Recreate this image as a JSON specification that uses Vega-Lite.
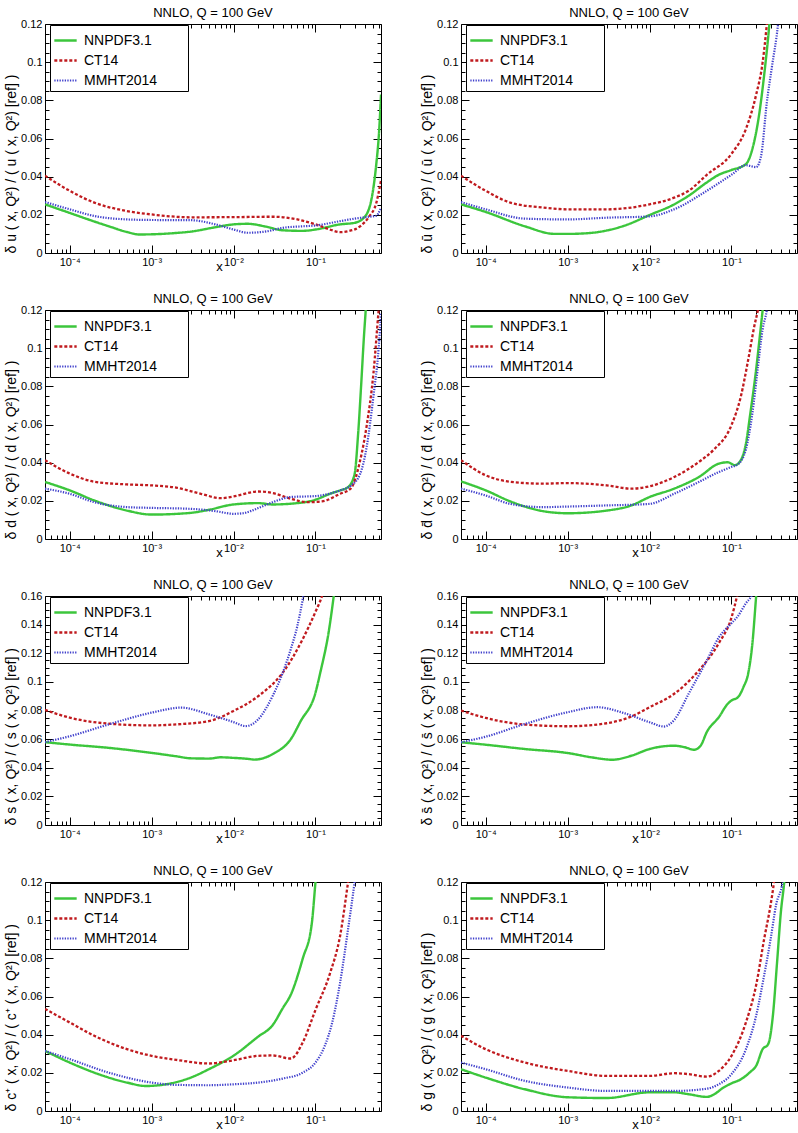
{
"$schema": "https://vega.github.io/schema/vega-lite/v6.json",
"padding": {"left": 4, "top": 6, "right": 2, "bottom": 2},
"background": "white",
"config": {
 "font": "Liberation Sans",
 "view": {"stroke": "black", "strokeWidth": 1},
 "axis": {"grid": false, "domain": false, "tickColor": "black", "tickWidth": 1, "labelColor": "black", "titleColor": "black", "labelFontSize": 11, "titleFontSize": 14, "titleFontWeight": "normal", "labelFont": "Liberation Sans", "titleFont": "Liberation Sans"},
 "title": {"fontSize": 13, "fontWeight": "normal", "font": "Liberation Sans", "color": "black", "offset": -2},
 "legend": {"orient": "none", "legendX": 5, "legendY": 1, "strokeColor": "black", "fillColor": "white", "padding": 3, "rowPadding": 0, "labelFontSize": 14, "labelFont": "Liberation Sans", "labelColor": "black", "symbolType": "stroke", "symbolSize": 500, "labelOffset": 6, "cornerRadius": 0, "labelLimit": 400}
},
"datasets": {
 "u": [
  {"s":"NNPDF3.1","x":0.00005,"y":0.0255},{"s":"NNPDF3.1","x":0.0001,"y":0.021},{"s":"NNPDF3.1","x":0.0002,"y":0.0165},{"s":"NNPDF3.1","x":0.0003,"y":0.014},{"s":"NNPDF3.1","x":0.0005,"y":0.011},{"s":"NNPDF3.1","x":0.0007,"y":0.0097},{"s":"NNPDF3.1","x":0.001,"y":0.0098},{"s":"NNPDF3.1","x":0.002,"y":0.0105},{"s":"NNPDF3.1","x":0.003,"y":0.0112},{"s":"NNPDF3.1","x":0.006,"y":0.0135},{"s":"NNPDF3.1","x":0.01,"y":0.015},{"s":"NNPDF3.1","x":0.015,"y":0.0153},{"s":"NNPDF3.1","x":0.025,"y":0.0138},{"s":"NNPDF3.1","x":0.04,"y":0.0119},{"s":"NNPDF3.1","x":0.07,"y":0.0116},{"s":"NNPDF3.1","x":0.1,"y":0.0123},{"s":"NNPDF3.1","x":0.2,"y":0.015},{"s":"NNPDF3.1","x":0.3,"y":0.0158},{"s":"NNPDF3.1","x":0.4,"y":0.019},{"s":"NNPDF3.1","x":0.5,"y":0.032},{"s":"NNPDF3.1","x":0.55,"y":0.046},{"s":"NNPDF3.1","x":0.6,"y":0.065},{"s":"NNPDF3.1","x":0.63,"y":0.083},
  {"s":"CT14","x":0.00005,"y":0.0405},{"s":"CT14","x":0.0001,"y":0.0326},{"s":"CT14","x":0.0002,"y":0.0264},{"s":"CT14","x":0.0005,"y":0.022},{"s":"CT14","x":0.001,"y":0.0202},{"s":"CT14","x":0.003,"y":0.0187},{"s":"CT14","x":0.01,"y":0.0188},{"s":"CT14","x":0.03,"y":0.019},{"s":"CT14","x":0.06,"y":0.0176},{"s":"CT14","x":0.1,"y":0.015},{"s":"CT14","x":0.15,"y":0.0123},{"s":"CT14","x":0.2,"y":0.0109},{"s":"CT14","x":0.25,"y":0.0114},{"s":"CT14","x":0.35,"y":0.014},{"s":"CT14","x":0.45,"y":0.019},{"s":"CT14","x":0.55,"y":0.026},{"s":"CT14","x":0.63,"y":0.038},
  {"s":"MMHT2014","x":0.00005,"y":0.0267},{"s":"MMHT2014","x":0.0001,"y":0.0229},{"s":"MMHT2014","x":0.0002,"y":0.0194},{"s":"MMHT2014","x":0.0005,"y":0.0176},{"s":"MMHT2014","x":0.001,"y":0.0173},{"s":"MMHT2014","x":0.003,"y":0.0172},{"s":"MMHT2014","x":0.006,"y":0.015},{"s":"MMHT2014","x":0.01,"y":0.0123},{"s":"MMHT2014","x":0.015,"y":0.0106},{"s":"MMHT2014","x":0.025,"y":0.0113},{"s":"MMHT2014","x":0.04,"y":0.0132},{"s":"MMHT2014","x":0.07,"y":0.014},{"s":"MMHT2014","x":0.1,"y":0.0144},{"s":"MMHT2014","x":0.2,"y":0.0167},{"s":"MMHT2014","x":0.3,"y":0.018},{"s":"MMHT2014","x":0.45,"y":0.019},{"s":"MMHT2014","x":0.55,"y":0.0195},{"s":"MMHT2014","x":0.63,"y":0.0237}
 ],
 "ub": [
  {"s":"NNPDF3.1","x":0.00005,"y":0.0255},{"s":"NNPDF3.1","x":0.0001,"y":0.0215},{"s":"NNPDF3.1","x":0.0003,"y":0.014},{"s":"NNPDF3.1","x":0.0007,"y":0.01},{"s":"NNPDF3.1","x":0.001,"y":0.01},{"s":"NNPDF3.1","x":0.002,"y":0.0106},{"s":"NNPDF3.1","x":0.003,"y":0.0118},{"s":"NNPDF3.1","x":0.005,"y":0.0144},{"s":"NNPDF3.1","x":0.01,"y":0.0199},{"s":"NNPDF3.1","x":0.02,"y":0.0255},{"s":"NNPDF3.1","x":0.03,"y":0.03},{"s":"NNPDF3.1","x":0.05,"y":0.037},{"s":"NNPDF3.1","x":0.07,"y":0.041},{"s":"NNPDF3.1","x":0.1,"y":0.0435},{"s":"NNPDF3.1","x":0.15,"y":0.0466},{"s":"NNPDF3.1","x":0.18,"y":0.0546},{"s":"NNPDF3.1","x":0.22,"y":0.074},{"s":"NNPDF3.1","x":0.25,"y":0.093},{"s":"NNPDF3.1","x":0.29,"y":0.12},{"s":"NNPDF3.1","x":0.31,"y":0.135},
  {"s":"CT14","x":0.00005,"y":0.0405},{"s":"CT14","x":0.0001,"y":0.0326},{"s":"CT14","x":0.0002,"y":0.0264},{"s":"CT14","x":0.0005,"y":0.0238},{"s":"CT14","x":0.001,"y":0.0229},{"s":"CT14","x":0.003,"y":0.0229},{"s":"CT14","x":0.01,"y":0.0255},{"s":"CT14","x":0.02,"y":0.029},{"s":"CT14","x":0.03,"y":0.0326},{"s":"CT14","x":0.05,"y":0.041},{"s":"CT14","x":0.1,"y":0.052},{"s":"CT14","x":0.15,"y":0.065},{"s":"CT14","x":0.2,"y":0.083},{"s":"CT14","x":0.24,"y":0.1},{"s":"CT14","x":0.27,"y":0.12},{"s":"CT14","x":0.29,"y":0.135},
  {"s":"MMHT2014","x":0.00005,"y":0.0267},{"s":"MMHT2014","x":0.0001,"y":0.0229},{"s":"MMHT2014","x":0.0003,"y":0.018},{"s":"MMHT2014","x":0.001,"y":0.0176},{"s":"MMHT2014","x":0.003,"y":0.0185},{"s":"MMHT2014","x":0.01,"y":0.0192},{"s":"MMHT2014","x":0.02,"y":0.0229},{"s":"MMHT2014","x":0.05,"y":0.0326},{"s":"MMHT2014","x":0.1,"y":0.041},{"s":"MMHT2014","x":0.15,"y":0.046},{"s":"MMHT2014","x":0.2,"y":0.045},{"s":"MMHT2014","x":0.23,"y":0.051},{"s":"MMHT2014","x":0.27,"y":0.079},{"s":"MMHT2014","x":0.31,"y":0.097},{"s":"MMHT2014","x":0.37,"y":0.12},{"s":"MMHT2014","x":0.4,"y":0.135}
 ],
 "d": [
  {"s":"NNPDF3.1","x":0.00005,"y":0.0299},{"s":"NNPDF3.1","x":0.0001,"y":0.0255},{"s":"NNPDF3.1","x":0.0002,"y":0.0202},{"s":"NNPDF3.1","x":0.0005,"y":0.0149},{"s":"NNPDF3.1","x":0.001,"y":0.0128},{"s":"NNPDF3.1","x":0.003,"y":0.0137},{"s":"NNPDF3.1","x":0.005,"y":0.0153},{"s":"NNPDF3.1","x":0.01,"y":0.0181},{"s":"NNPDF3.1","x":0.02,"y":0.0188},{"s":"NNPDF3.1","x":0.03,"y":0.0181},{"s":"NNPDF3.1","x":0.05,"y":0.0185},{"s":"NNPDF3.1","x":0.1,"y":0.0206},{"s":"NNPDF3.1","x":0.15,"y":0.0237},{"s":"NNPDF3.1","x":0.2,"y":0.0255},{"s":"NNPDF3.1","x":0.25,"y":0.0272},{"s":"NNPDF3.1","x":0.3,"y":0.034},{"s":"NNPDF3.1","x":0.33,"y":0.054},{"s":"NNPDF3.1","x":0.36,"y":0.08},{"s":"NNPDF3.1","x":0.39,"y":0.106},{"s":"NNPDF3.1","x":0.41,"y":0.12},{"s":"NNPDF3.1","x":0.43,"y":0.135},
  {"s":"CT14","x":0.00005,"y":0.0413},{"s":"CT14","x":0.0001,"y":0.0343},{"s":"CT14","x":0.0002,"y":0.03},{"s":"CT14","x":0.0005,"y":0.0286},{"s":"CT14","x":0.001,"y":0.0281},{"s":"CT14","x":0.002,"y":0.0269},{"s":"CT14","x":0.004,"y":0.0237},{"s":"CT14","x":0.007,"y":0.0214},{"s":"CT14","x":0.01,"y":0.0223},{"s":"CT14","x":0.02,"y":0.0249},{"s":"CT14","x":0.03,"y":0.0241},{"s":"CT14","x":0.05,"y":0.0211},{"s":"CT14","x":0.08,"y":0.0193},{"s":"CT14","x":0.12,"y":0.0197},{"s":"CT14","x":0.2,"y":0.0237},{"s":"CT14","x":0.27,"y":0.0265},{"s":"CT14","x":0.35,"y":0.041},{"s":"CT14","x":0.42,"y":0.059},{"s":"CT14","x":0.51,"y":0.087},{"s":"CT14","x":0.59,"y":0.12},{"s":"CT14","x":0.62,"y":0.13},
  {"s":"MMHT2014","x":0.00005,"y":0.0264},{"s":"MMHT2014","x":0.0001,"y":0.0237},{"s":"MMHT2014","x":0.0002,"y":0.0193},{"s":"MMHT2014","x":0.0005,"y":0.0167},{"s":"MMHT2014","x":0.001,"y":0.0163},{"s":"MMHT2014","x":0.003,"y":0.0158},{"s":"MMHT2014","x":0.006,"y":0.0146},{"s":"MMHT2014","x":0.01,"y":0.0132},{"s":"MMHT2014","x":0.013,"y":0.0135},{"s":"MMHT2014","x":0.02,"y":0.0162},{"s":"MMHT2014","x":0.03,"y":0.0193},{"s":"MMHT2014","x":0.05,"y":0.022},{"s":"MMHT2014","x":0.1,"y":0.0225},{"s":"MMHT2014","x":0.2,"y":0.0255},{"s":"MMHT2014","x":0.27,"y":0.028},{"s":"MMHT2014","x":0.35,"y":0.034},{"s":"MMHT2014","x":0.42,"y":0.048},{"s":"MMHT2014","x":0.51,"y":0.075},{"s":"MMHT2014","x":0.59,"y":0.1},{"s":"MMHT2014","x":0.63,"y":0.118}
 ],
 "db": [
  {"s":"NNPDF3.1","x":0.00005,"y":0.0302},{"s":"NNPDF3.1","x":0.0001,"y":0.0255},{"s":"NNPDF3.1","x":0.0002,"y":0.0197},{"s":"NNPDF3.1","x":0.0005,"y":0.0146},{"s":"NNPDF3.1","x":0.001,"y":0.0135},{"s":"NNPDF3.1","x":0.003,"y":0.0149},{"s":"NNPDF3.1","x":0.006,"y":0.0176},{"s":"NNPDF3.1","x":0.01,"y":0.022},{"s":"NNPDF3.1","x":0.02,"y":0.0264},{"s":"NNPDF3.1","x":0.04,"y":0.0325},{"s":"NNPDF3.1","x":0.07,"y":0.0395},{"s":"NNPDF3.1","x":0.09,"y":0.0402},{"s":"NNPDF3.1","x":0.11,"y":0.0387},{"s":"NNPDF3.1","x":0.13,"y":0.0413},{"s":"NNPDF3.1","x":0.15,"y":0.05},{"s":"NNPDF3.1","x":0.17,"y":0.066},{"s":"NNPDF3.1","x":0.2,"y":0.089},{"s":"NNPDF3.1","x":0.22,"y":0.105},{"s":"NNPDF3.1","x":0.24,"y":0.12},{"s":"NNPDF3.1","x":0.26,"y":0.135},
  {"s":"CT14","x":0.00005,"y":0.0413},{"s":"CT14","x":0.0001,"y":0.0334},{"s":"CT14","x":0.0002,"y":0.03},{"s":"CT14","x":0.0005,"y":0.029},{"s":"CT14","x":0.001,"y":0.0293},{"s":"CT14","x":0.003,"y":0.0281},{"s":"CT14","x":0.006,"y":0.0264},{"s":"CT14","x":0.01,"y":0.0276},{"s":"CT14","x":0.02,"y":0.0325},{"s":"CT14","x":0.04,"y":0.0404},{"s":"CT14","x":0.06,"y":0.0466},{"s":"CT14","x":0.1,"y":0.0597},{"s":"CT14","x":0.13,"y":0.0747},{"s":"CT14","x":0.16,"y":0.094},{"s":"CT14","x":0.19,"y":0.1116},{"s":"CT14","x":0.21,"y":0.12},{"s":"CT14","x":0.23,"y":0.13},
  {"s":"MMHT2014","x":0.00005,"y":0.0264},{"s":"MMHT2014","x":0.0001,"y":0.0228},{"s":"MMHT2014","x":0.0002,"y":0.0184},{"s":"MMHT2014","x":0.0005,"y":0.0167},{"s":"MMHT2014","x":0.001,"y":0.017},{"s":"MMHT2014","x":0.003,"y":0.0176},{"s":"MMHT2014","x":0.01,"y":0.0184},{"s":"MMHT2014","x":0.02,"y":0.0237},{"s":"MMHT2014","x":0.04,"y":0.0299},{"s":"MMHT2014","x":0.07,"y":0.0351},{"s":"MMHT2014","x":0.1,"y":0.0378},{"s":"MMHT2014","x":0.12,"y":0.0392},{"s":"MMHT2014","x":0.15,"y":0.047},{"s":"MMHT2014","x":0.18,"y":0.066},{"s":"MMHT2014","x":0.21,"y":0.09},{"s":"MMHT2014","x":0.24,"y":0.11},{"s":"MMHT2014","x":0.27,"y":0.12},{"s":"MMHT2014","x":0.29,"y":0.13}
 ],
 "s": [
  {"s":"NNPDF3.1","x":0.00005,"y":0.0579},{"s":"NNPDF3.1","x":0.0001,"y":0.0562},{"s":"NNPDF3.1","x":0.0003,"y":0.0539},{"s":"NNPDF3.1","x":0.001,"y":0.0504},{"s":"NNPDF3.1","x":0.002,"y":0.048},{"s":"NNPDF3.1","x":0.003,"y":0.0466},{"s":"NNPDF3.1","x":0.005,"y":0.0464},{"s":"NNPDF3.1","x":0.007,"y":0.0473},{"s":"NNPDF3.1","x":0.01,"y":0.0469},{"s":"NNPDF3.1","x":0.015,"y":0.0462},{"s":"NNPDF3.1","x":0.018,"y":0.0457},{"s":"NNPDF3.1","x":0.024,"y":0.047},{"s":"NNPDF3.1","x":0.031,"y":0.05},{"s":"NNPDF3.1","x":0.05,"y":0.06},{"s":"NNPDF3.1","x":0.066,"y":0.0726},{"s":"NNPDF3.1","x":0.1,"y":0.0925},{"s":"NNPDF3.1","x":0.115,"y":0.107},{"s":"NNPDF3.1","x":0.145,"y":0.135},{"s":"NNPDF3.1","x":0.167,"y":0.16},{"s":"NNPDF3.1","x":0.18,"y":0.175},
  {"s":"CT14","x":0.00005,"y":0.0804},{"s":"CT14","x":0.0001,"y":0.075},{"s":"CT14","x":0.0003,"y":0.0708},{"s":"CT14","x":0.001,"y":0.0696},{"s":"CT14","x":0.002,"y":0.0703},{"s":"CT14","x":0.005,"y":0.0726},{"s":"CT14","x":0.01,"y":0.0797},{"s":"CT14","x":0.02,"y":0.09},{"s":"CT14","x":0.04,"y":0.1066},{"s":"CT14","x":0.07,"y":0.13},{"s":"CT14","x":0.1,"y":0.149},{"s":"CT14","x":0.12,"y":0.16},{"s":"CT14","x":0.13,"y":0.167},
  {"s":"MMHT2014","x":0.00005,"y":0.0579},{"s":"MMHT2014","x":0.0001,"y":0.062},{"s":"MMHT2014","x":0.0003,"y":0.0703},{"s":"MMHT2014","x":0.001,"y":0.0785},{"s":"MMHT2014","x":0.0023,"y":0.082},{"s":"MMHT2014","x":0.005,"y":0.0773},{"s":"MMHT2014","x":0.01,"y":0.0719},{"s":"MMHT2014","x":0.014,"y":0.0691},{"s":"MMHT2014","x":0.02,"y":0.0738},{"s":"MMHT2014","x":0.03,"y":0.0902},{"s":"MMHT2014","x":0.04,"y":0.1066},{"s":"MMHT2014","x":0.05,"y":0.123},{"s":"MMHT2014","x":0.06,"y":0.139},{"s":"MMHT2014","x":0.07,"y":0.158},{"s":"MMHT2014","x":0.075,"y":0.168}
 ],
 "sb": [
  {"s":"NNPDF3.1","x":0.00005,"y":0.0578},{"s":"NNPDF3.1","x":0.0001,"y":0.0561},{"s":"NNPDF3.1","x":0.0003,"y":0.0531},{"s":"NNPDF3.1","x":0.001,"y":0.0503},{"s":"NNPDF3.1","x":0.002,"y":0.0472},{"s":"NNPDF3.1","x":0.0035,"y":0.0456},{"s":"NNPDF3.1","x":0.006,"y":0.0484},{"s":"NNPDF3.1","x":0.01,"y":0.0531},{"s":"NNPDF3.1","x":0.02,"y":0.0554},{"s":"NNPDF3.1","x":0.027,"y":0.0543},{"s":"NNPDF3.1","x":0.035,"y":0.0526},{"s":"NNPDF3.1","x":0.042,"y":0.0554},{"s":"NNPDF3.1","x":0.05,"y":0.065},{"s":"NNPDF3.1","x":0.07,"y":0.0753},{"s":"NNPDF3.1","x":0.09,"y":0.0847},{"s":"NNPDF3.1","x":0.1,"y":0.087},{"s":"NNPDF3.1","x":0.12,"y":0.0893},{"s":"NNPDF3.1","x":0.14,"y":0.0964},{"s":"NNPDF3.1","x":0.16,"y":0.106},{"s":"NNPDF3.1","x":0.18,"y":0.127},{"s":"NNPDF3.1","x":0.2,"y":0.16},{"s":"NNPDF3.1","x":0.21,"y":0.175},
  {"s":"CT14","x":0.00005,"y":0.08},{"s":"CT14","x":0.0001,"y":0.0748},{"s":"CT14","x":0.0003,"y":0.0702},{"s":"CT14","x":0.001,"y":0.069},{"s":"CT14","x":0.003,"y":0.0711},{"s":"CT14","x":0.006,"y":0.0758},{"s":"CT14","x":0.01,"y":0.0823},{"s":"CT14","x":0.02,"y":0.0917},{"s":"CT14","x":0.04,"y":0.108},{"s":"CT14","x":0.07,"y":0.127},{"s":"CT14","x":0.1,"y":0.145},{"s":"CT14","x":0.117,"y":0.16},{"s":"CT14","x":0.125,"y":0.167},
  {"s":"MMHT2014","x":0.00005,"y":0.0578},{"s":"MMHT2014","x":0.0001,"y":0.0617},{"s":"MMHT2014","x":0.0003,"y":0.0706},{"s":"MMHT2014","x":0.001,"y":0.0788},{"s":"MMHT2014","x":0.0023,"y":0.0823},{"s":"MMHT2014","x":0.005,"y":0.078},{"s":"MMHT2014","x":0.01,"y":0.0718},{"s":"MMHT2014","x":0.015,"y":0.0688},{"s":"MMHT2014","x":0.02,"y":0.0734},{"s":"MMHT2014","x":0.03,"y":0.0917},{"s":"MMHT2014","x":0.05,"y":0.115},{"s":"MMHT2014","x":0.07,"y":0.131},{"s":"MMHT2014","x":0.1,"y":0.141},{"s":"MMHT2014","x":0.12,"y":0.146},{"s":"MMHT2014","x":0.15,"y":0.155},{"s":"MMHT2014","x":0.175,"y":0.16},{"s":"MMHT2014","x":0.19,"y":0.165}
 ],
 "c": [
  {"s":"NNPDF3.1","x":0.00005,"y":0.0315},{"s":"NNPDF3.1","x":0.0001,"y":0.0254},{"s":"NNPDF3.1","x":0.0002,"y":0.0201},{"s":"NNPDF3.1","x":0.0005,"y":0.0149},{"s":"NNPDF3.1","x":0.00085,"y":0.0131},{"s":"NNPDF3.1","x":0.0015,"y":0.014},{"s":"NNPDF3.1","x":0.003,"y":0.0175},{"s":"NNPDF3.1","x":0.005,"y":0.0219},{"s":"NNPDF3.1","x":0.01,"y":0.029},{"s":"NNPDF3.1","x":0.02,"y":0.039},{"s":"NNPDF3.1","x":0.03,"y":0.045},{"s":"NNPDF3.1","x":0.04,"y":0.054},{"s":"NNPDF3.1","x":0.05,"y":0.061},{"s":"NNPDF3.1","x":0.07,"y":0.08},{"s":"NNPDF3.1","x":0.09,"y":0.098},{"s":"NNPDF3.1","x":0.1,"y":0.12},{"s":"NNPDF3.1","x":0.105,"y":0.13},
  {"s":"CT14","x":0.00005,"y":0.0535},{"s":"CT14","x":0.0001,"y":0.0464},{"s":"CT14","x":0.0002,"y":0.0394},{"s":"CT14","x":0.0005,"y":0.0324},{"s":"CT14","x":0.001,"y":0.0289},{"s":"CT14","x":0.002,"y":0.0268},{"s":"CT14","x":0.005,"y":0.0249},{"s":"CT14","x":0.01,"y":0.0266},{"s":"CT14","x":0.02,"y":0.0289},{"s":"CT14","x":0.03,"y":0.0291},{"s":"CT14","x":0.05,"y":0.0275},{"s":"CT14","x":0.07,"y":0.036},{"s":"CT14","x":0.1,"y":0.053},{"s":"CT14","x":0.15,"y":0.072},{"s":"CT14","x":0.2,"y":0.092},{"s":"CT14","x":0.25,"y":0.12},{"s":"CT14","x":0.27,"y":0.13},
  {"s":"MMHT2014","x":0.00005,"y":0.0315},{"s":"MMHT2014","x":0.0001,"y":0.0272},{"s":"MMHT2014","x":0.0003,"y":0.0201},{"s":"MMHT2014","x":0.001,"y":0.0149},{"s":"MMHT2014","x":0.002,"y":0.0137},{"s":"MMHT2014","x":0.005,"y":0.0135},{"s":"MMHT2014","x":0.01,"y":0.014},{"s":"MMHT2014","x":0.02,"y":0.0149},{"s":"MMHT2014","x":0.04,"y":0.017},{"s":"MMHT2014","x":0.07,"y":0.0201},{"s":"MMHT2014","x":0.1,"y":0.0254},{"s":"MMHT2014","x":0.13,"y":0.0342},{"s":"MMHT2014","x":0.16,"y":0.0464},{"s":"MMHT2014","x":0.2,"y":0.0675},{"s":"MMHT2014","x":0.25,"y":0.0955},{"s":"MMHT2014","x":0.3,"y":0.12},{"s":"MMHT2014","x":0.32,"y":0.13}
 ],
 "g": [
  {"s":"NNPDF3.1","x":0.00005,"y":0.0219},{"s":"NNPDF3.1","x":0.0001,"y":0.0175},{"s":"NNPDF3.1","x":0.0003,"y":0.0114},{"s":"NNPDF3.1","x":0.001,"y":0.0072},{"s":"NNPDF3.1","x":0.003,"y":0.0068},{"s":"NNPDF3.1","x":0.01,"y":0.0098},{"s":"NNPDF3.1","x":0.02,"y":0.0098},{"s":"NNPDF3.1","x":0.03,"y":0.0088},{"s":"NNPDF3.1","x":0.05,"y":0.0074},{"s":"NNPDF3.1","x":0.06,"y":0.0085},{"s":"NNPDF3.1","x":0.08,"y":0.0123},{"s":"NNPDF3.1","x":0.1,"y":0.0145},{"s":"NNPDF3.1","x":0.13,"y":0.0166},{"s":"NNPDF3.1","x":0.17,"y":0.0205},{"s":"NNPDF3.1","x":0.2,"y":0.0237},{"s":"NNPDF3.1","x":0.24,"y":0.0324},{"s":"NNPDF3.1","x":0.28,"y":0.035},{"s":"NNPDF3.1","x":0.32,"y":0.05},{"s":"NNPDF3.1","x":0.36,"y":0.078},{"s":"NNPDF3.1","x":0.4,"y":0.104},{"s":"NNPDF3.1","x":0.44,"y":0.12},{"s":"NNPDF3.1","x":0.46,"y":0.13},
  {"s":"CT14","x":0.00005,"y":0.0394},{"s":"CT14","x":0.0001,"y":0.0324},{"s":"CT14","x":0.0003,"y":0.0254},{"s":"CT14","x":0.001,"y":0.021},{"s":"CT14","x":0.003,"y":0.0184},{"s":"CT14","x":0.01,"y":0.0184},{"s":"CT14","x":0.02,"y":0.0198},{"s":"CT14","x":0.03,"y":0.0193},{"s":"CT14","x":0.05,"y":0.018},{"s":"CT14","x":0.07,"y":0.021},{"s":"CT14","x":0.1,"y":0.0289},{"s":"CT14","x":0.15,"y":0.0464},{"s":"CT14","x":0.2,"y":0.066},{"s":"CT14","x":0.25,"y":0.09},{"s":"CT14","x":0.3,"y":0.108},{"s":"CT14","x":0.33,"y":0.12},{"s":"CT14","x":0.35,"y":0.13},
  {"s":"MMHT2014","x":0.00005,"y":0.0254},{"s":"MMHT2014","x":0.0001,"y":0.0219},{"s":"MMHT2014","x":0.0003,"y":0.0158},{"s":"MMHT2014","x":0.001,"y":0.0123},{"s":"MMHT2014","x":0.003,"y":0.0105},{"s":"MMHT2014","x":0.01,"y":0.0105},{"s":"MMHT2014","x":0.02,"y":0.0105},{"s":"MMHT2014","x":0.05,"y":0.0117},{"s":"MMHT2014","x":0.07,"y":0.014},{"s":"MMHT2014","x":0.1,"y":0.0193},{"s":"MMHT2014","x":0.15,"y":0.0324},{"s":"MMHT2014","x":0.2,"y":0.05},{"s":"MMHT2014","x":0.25,"y":0.071},{"s":"MMHT2014","x":0.3,"y":0.09},{"s":"MMHT2014","x":0.35,"y":0.108},{"s":"MMHT2014","x":0.42,"y":0.12},{"s":"MMHT2014","x":0.45,"y":0.13}
 ]
},
"columns": 2,
"spacing": {"row": 57, "column": 80},
"bounds": "flush",
"resolve": {"scale": {"x": "independent", "y": "independent"}, "legend": {"color": "independent", "strokeDash": "independent", "strokeWidth": "independent"}},
"concat": [
 {"data": {"name": "u"}, "title": "NNLO, Q = 100 GeV", "width": 336, "height": 229,
  "resolve": {"axis": {"x": "independent", "y": "independent"}},
  "layer": [
   {"mark": {"type": "line", "clip": true, "interpolate": "monotone"},
    "encoding": {
     "x": {"field": "x", "type": "quantitative", "scale": {"type": "log", "domain": [0.00005, 0.63], "nice": false}, "axis": {"orient": "bottom", "values": [0.0001,0.001,0.01,0.1], "tickSize": -8, "labelPadding": 11, "labelExpr": "datum.value < 0.0005 ? '10⁻⁴' : datum.value < 0.005 ? '10⁻³' : datum.value < 0.05 ? '10⁻²' : '10⁻¹'", "title": "x", "titleX": 174, "titleY": 13, "titleBaseline": "middle", "titleFontSize": 13}},
     "y": {"field": "y", "type": "quantitative", "scale": {"domain": [0, 0.12], "nice": false}, "axis": {"orient": "left", "values": [0,0.02,0.04,0.06,0.08,0.1,0.12], "tickSize": -8, "labelPadding": 11, "labelExpr": "format(datum.value, '.2~f')", "title": "δ u ( x, Q²) / ( u ( x, Q²) [ref] )", "titleAnchor": "start", "titlePadding": 2}},
     "color": {"field": "s", "type": "nominal", "scale": {"domain": ["NNPDF3.1","CT14","MMHT2014"], "range": ["#3cc63c","#c01a1e","#4040cc"]}, "legend": {"title": null, "labelExpr": "datum.label + '\u00a0\u00a0\u00a0\u00a0\u00a0\u00a0\u00a0\u200b'"}},
     "strokeDash": {"field": "s", "type": "nominal", "scale": {"domain": ["NNPDF3.1","CT14","MMHT2014"], "range": [[1,0],[3,2],[1.3,1.3]]}, "legend": {"title": null, "labelExpr": "datum.label + '\u00a0\u00a0\u00a0\u00a0\u00a0\u00a0\u00a0\u200b'"}},
     "strokeWidth": {"field": "s", "type": "ordinal", "scale": {"domain": ["NNPDF3.1","CT14","MMHT2014"], "range": [2.4,2.2,1.6]}, "legend": {"title": null, "labelExpr": "datum.label + '\u00a0\u00a0\u00a0\u00a0\u00a0\u00a0\u00a0\u200b'"}}
    }},
   {"mark": {"type": "line", "clip": true, "opacity": 0}, "encoding": {"x": {"field": "x", "type": "quantitative", "axis": {"orient": "top", "values": [0.0001,0.001,0.01,0.1], "tickSize": -8, "labels": false, "title": null}}, "y": {"field": "y", "type": "quantitative", "axis": {"orient": "right", "values": [0,0.02,0.04,0.06,0.08,0.1,0.12], "tickSize": -8, "labels": false, "title": null}}}},
   {"mark": {"type": "line", "clip": true, "opacity": 0}, "encoding": {"x": {"field": "x", "type": "quantitative", "axis": {"orient": "bottom", "values": [0.00006,0.00007,0.00008,0.00009,0.0002,0.0003,0.0004,0.0005,0.0006,0.0007,0.0008,0.0009,0.002,0.003,0.004,0.005,0.006,0.007,0.008,0.009,0.02,0.03,0.04,0.05,0.06,0.07,0.08,0.09,0.2,0.3,0.4,0.5,0.6], "tickSize": -4, "labels": false, "title": null}}, "y": {"field": "y", "type": "quantitative", "axis": {"orient": "left", "values": [0.005,0.01,0.015,0.025,0.03,0.035,0.045,0.05,0.055,0.065,0.07,0.075,0.085,0.09,0.095,0.105,0.11,0.115], "tickSize": -4, "labels": false, "title": null}}}},
   {"mark": {"type": "line", "clip": true, "opacity": 0}, "encoding": {"x": {"field": "x", "type": "quantitative", "axis": {"orient": "top", "values": [0.00006,0.00007,0.00008,0.00009,0.0002,0.0003,0.0004,0.0005,0.0006,0.0007,0.0008,0.0009,0.002,0.003,0.004,0.005,0.006,0.007,0.008,0.009,0.02,0.03,0.04,0.05,0.06,0.07,0.08,0.09,0.2,0.3,0.4,0.5,0.6], "tickSize": -4, "labels": false, "title": null}}, "y": {"field": "y", "type": "quantitative", "axis": {"orient": "right", "values": [0.005,0.01,0.015,0.025,0.03,0.035,0.045,0.05,0.055,0.065,0.07,0.075,0.085,0.09,0.095,0.105,0.11,0.115], "tickSize": -4, "labels": false, "title": null}}}}
  ]},
 {"data": {"name": "ub"}, "title": "NNLO, Q = 100 GeV", "width": 336, "height": 229,
  "resolve": {"axis": {"x": "independent", "y": "independent"}},
  "layer": [
   {"mark": {"type": "line", "clip": true, "interpolate": "monotone"},
    "encoding": {
     "x": {"field": "x", "type": "quantitative", "scale": {"type": "log", "domain": [0.00005, 0.63], "nice": false}, "axis": {"orient": "bottom", "values": [0.0001,0.001,0.01,0.1], "tickSize": -8, "labelPadding": 11, "labelExpr": "datum.value < 0.0005 ? '10⁻⁴' : datum.value < 0.005 ? '10⁻³' : datum.value < 0.05 ? '10⁻²' : '10⁻¹'", "title": "x", "titleX": 174, "titleY": 13, "titleBaseline": "middle", "titleFontSize": 13}},
     "y": {"field": "y", "type": "quantitative", "scale": {"domain": [0, 0.12], "nice": false}, "axis": {"orient": "left", "values": [0,0.02,0.04,0.06,0.08,0.1,0.12], "tickSize": -8, "labelPadding": 11, "labelExpr": "format(datum.value, '.2~f')", "title": "δ ū ( x, Q²) / ( ū ( x, Q²) [ref] )", "titleAnchor": "start", "titlePadding": 2}},
     "color": {"field": "s", "type": "nominal", "scale": {"domain": ["NNPDF3.1","CT14","MMHT2014"], "range": ["#3cc63c","#c01a1e","#4040cc"]}, "legend": {"title": null, "labelExpr": "datum.label + '\u00a0\u00a0\u00a0\u00a0\u00a0\u00a0\u00a0\u200b'"}},
     "strokeDash": {"field": "s", "type": "nominal", "scale": {"domain": ["NNPDF3.1","CT14","MMHT2014"], "range": [[1,0],[3,2],[1.3,1.3]]}, "legend": {"title": null, "labelExpr": "datum.label + '\u00a0\u00a0\u00a0\u00a0\u00a0\u00a0\u00a0\u200b'"}},
     "strokeWidth": {"field": "s", "type": "ordinal", "scale": {"domain": ["NNPDF3.1","CT14","MMHT2014"], "range": [2.4,2.2,1.6]}, "legend": {"title": null, "labelExpr": "datum.label + '\u00a0\u00a0\u00a0\u00a0\u00a0\u00a0\u00a0\u200b'"}}
    }},
   {"mark": {"type": "line", "clip": true, "opacity": 0}, "encoding": {"x": {"field": "x", "type": "quantitative", "axis": {"orient": "top", "values": [0.0001,0.001,0.01,0.1], "tickSize": -8, "labels": false, "title": null}}, "y": {"field": "y", "type": "quantitative", "axis": {"orient": "right", "values": [0,0.02,0.04,0.06,0.08,0.1,0.12], "tickSize": -8, "labels": false, "title": null}}}},
   {"mark": {"type": "line", "clip": true, "opacity": 0}, "encoding": {"x": {"field": "x", "type": "quantitative", "axis": {"orient": "bottom", "values": [0.00006,0.00007,0.00008,0.00009,0.0002,0.0003,0.0004,0.0005,0.0006,0.0007,0.0008,0.0009,0.002,0.003,0.004,0.005,0.006,0.007,0.008,0.009,0.02,0.03,0.04,0.05,0.06,0.07,0.08,0.09,0.2,0.3,0.4,0.5,0.6], "tickSize": -4, "labels": false, "title": null}}, "y": {"field": "y", "type": "quantitative", "axis": {"orient": "left", "values": [0.005,0.01,0.015,0.025,0.03,0.035,0.045,0.05,0.055,0.065,0.07,0.075,0.085,0.09,0.095,0.105,0.11,0.115], "tickSize": -4, "labels": false, "title": null}}}},
   {"mark": {"type": "line", "clip": true, "opacity": 0}, "encoding": {"x": {"field": "x", "type": "quantitative", "axis": {"orient": "top", "values": [0.00006,0.00007,0.00008,0.00009,0.0002,0.0003,0.0004,0.0005,0.0006,0.0007,0.0008,0.0009,0.002,0.003,0.004,0.005,0.006,0.007,0.008,0.009,0.02,0.03,0.04,0.05,0.06,0.07,0.08,0.09,0.2,0.3,0.4,0.5,0.6], "tickSize": -4, "labels": false, "title": null}}, "y": {"field": "y", "type": "quantitative", "axis": {"orient": "right", "values": [0.005,0.01,0.015,0.025,0.03,0.035,0.045,0.05,0.055,0.065,0.07,0.075,0.085,0.09,0.095,0.105,0.11,0.115], "tickSize": -4, "labels": false, "title": null}}}}
  ]},
 {"data": {"name": "d"}, "title": "NNLO, Q = 100 GeV", "width": 336, "height": 229,
  "resolve": {"axis": {"x": "independent", "y": "independent"}},
  "layer": [
   {"mark": {"type": "line", "clip": true, "interpolate": "monotone"},
    "encoding": {
     "x": {"field": "x", "type": "quantitative", "scale": {"type": "log", "domain": [0.00005, 0.63], "nice": false}, "axis": {"orient": "bottom", "values": [0.0001,0.001,0.01,0.1], "tickSize": -8, "labelPadding": 11, "labelExpr": "datum.value < 0.0005 ? '10⁻⁴' : datum.value < 0.005 ? '10⁻³' : datum.value < 0.05 ? '10⁻²' : '10⁻¹'", "title": "x", "titleX": 174, "titleY": 13, "titleBaseline": "middle", "titleFontSize": 13}},
     "y": {"field": "y", "type": "quantitative", "scale": {"domain": [0, 0.12], "nice": false}, "axis": {"orient": "left", "values": [0,0.02,0.04,0.06,0.08,0.1,0.12], "tickSize": -8, "labelPadding": 11, "labelExpr": "format(datum.value, '.2~f')", "title": "δ d ( x, Q²) / ( d ( x, Q²) [ref] )", "titleAnchor": "start", "titlePadding": 2}},
     "color": {"field": "s", "type": "nominal", "scale": {"domain": ["NNPDF3.1","CT14","MMHT2014"], "range": ["#3cc63c","#c01a1e","#4040cc"]}, "legend": {"title": null, "labelExpr": "datum.label + '\u00a0\u00a0\u00a0\u00a0\u00a0\u00a0\u00a0\u200b'"}},
     "strokeDash": {"field": "s", "type": "nominal", "scale": {"domain": ["NNPDF3.1","CT14","MMHT2014"], "range": [[1,0],[3,2],[1.3,1.3]]}, "legend": {"title": null, "labelExpr": "datum.label + '\u00a0\u00a0\u00a0\u00a0\u00a0\u00a0\u00a0\u200b'"}},
     "strokeWidth": {"field": "s", "type": "ordinal", "scale": {"domain": ["NNPDF3.1","CT14","MMHT2014"], "range": [2.4,2.2,1.6]}, "legend": {"title": null, "labelExpr": "datum.label + '\u00a0\u00a0\u00a0\u00a0\u00a0\u00a0\u00a0\u200b'"}}
    }},
   {"mark": {"type": "line", "clip": true, "opacity": 0}, "encoding": {"x": {"field": "x", "type": "quantitative", "axis": {"orient": "top", "values": [0.0001,0.001,0.01,0.1], "tickSize": -8, "labels": false, "title": null}}, "y": {"field": "y", "type": "quantitative", "axis": {"orient": "right", "values": [0,0.02,0.04,0.06,0.08,0.1,0.12], "tickSize": -8, "labels": false, "title": null}}}},
   {"mark": {"type": "line", "clip": true, "opacity": 0}, "encoding": {"x": {"field": "x", "type": "quantitative", "axis": {"orient": "bottom", "values": [0.00006,0.00007,0.00008,0.00009,0.0002,0.0003,0.0004,0.0005,0.0006,0.0007,0.0008,0.0009,0.002,0.003,0.004,0.005,0.006,0.007,0.008,0.009,0.02,0.03,0.04,0.05,0.06,0.07,0.08,0.09,0.2,0.3,0.4,0.5,0.6], "tickSize": -4, "labels": false, "title": null}}, "y": {"field": "y", "type": "quantitative", "axis": {"orient": "left", "values": [0.005,0.01,0.015,0.025,0.03,0.035,0.045,0.05,0.055,0.065,0.07,0.075,0.085,0.09,0.095,0.105,0.11,0.115], "tickSize": -4, "labels": false, "title": null}}}},
   {"mark": {"type": "line", "clip": true, "opacity": 0}, "encoding": {"x": {"field": "x", "type": "quantitative", "axis": {"orient": "top", "values": [0.00006,0.00007,0.00008,0.00009,0.0002,0.0003,0.0004,0.0005,0.0006,0.0007,0.0008,0.0009,0.002,0.003,0.004,0.005,0.006,0.007,0.008,0.009,0.02,0.03,0.04,0.05,0.06,0.07,0.08,0.09,0.2,0.3,0.4,0.5,0.6], "tickSize": -4, "labels": false, "title": null}}, "y": {"field": "y", "type": "quantitative", "axis": {"orient": "right", "values": [0.005,0.01,0.015,0.025,0.03,0.035,0.045,0.05,0.055,0.065,0.07,0.075,0.085,0.09,0.095,0.105,0.11,0.115], "tickSize": -4, "labels": false, "title": null}}}}
  ]},
 {"data": {"name": "db"}, "title": "NNLO, Q = 100 GeV", "width": 336, "height": 229,
  "resolve": {"axis": {"x": "independent", "y": "independent"}},
  "layer": [
   {"mark": {"type": "line", "clip": true, "interpolate": "monotone"},
    "encoding": {
     "x": {"field": "x", "type": "quantitative", "scale": {"type": "log", "domain": [0.00005, 0.63], "nice": false}, "axis": {"orient": "bottom", "values": [0.0001,0.001,0.01,0.1], "tickSize": -8, "labelPadding": 11, "labelExpr": "datum.value < 0.0005 ? '10⁻⁴' : datum.value < 0.005 ? '10⁻³' : datum.value < 0.05 ? '10⁻²' : '10⁻¹'", "title": "x", "titleX": 174, "titleY": 13, "titleBaseline": "middle", "titleFontSize": 13}},
     "y": {"field": "y", "type": "quantitative", "scale": {"domain": [0, 0.12], "nice": false}, "axis": {"orient": "left", "values": [0,0.02,0.04,0.06,0.08,0.1,0.12], "tickSize": -8, "labelPadding": 11, "labelExpr": "format(datum.value, '.2~f')", "title": "δ d̄ ( x, Q²) / ( d̄ ( x, Q²) [ref] )", "titleAnchor": "start", "titlePadding": 2}},
     "color": {"field": "s", "type": "nominal", "scale": {"domain": ["NNPDF3.1","CT14","MMHT2014"], "range": ["#3cc63c","#c01a1e","#4040cc"]}, "legend": {"title": null, "labelExpr": "datum.label + '\u00a0\u00a0\u00a0\u00a0\u00a0\u00a0\u00a0\u200b'"}},
     "strokeDash": {"field": "s", "type": "nominal", "scale": {"domain": ["NNPDF3.1","CT14","MMHT2014"], "range": [[1,0],[3,2],[1.3,1.3]]}, "legend": {"title": null, "labelExpr": "datum.label + '\u00a0\u00a0\u00a0\u00a0\u00a0\u00a0\u00a0\u200b'"}},
     "strokeWidth": {"field": "s", "type": "ordinal", "scale": {"domain": ["NNPDF3.1","CT14","MMHT2014"], "range": [2.4,2.2,1.6]}, "legend": {"title": null, "labelExpr": "datum.label + '\u00a0\u00a0\u00a0\u00a0\u00a0\u00a0\u00a0\u200b'"}}
    }},
   {"mark": {"type": "line", "clip": true, "opacity": 0}, "encoding": {"x": {"field": "x", "type": "quantitative", "axis": {"orient": "top", "values": [0.0001,0.001,0.01,0.1], "tickSize": -8, "labels": false, "title": null}}, "y": {"field": "y", "type": "quantitative", "axis": {"orient": "right", "values": [0,0.02,0.04,0.06,0.08,0.1,0.12], "tickSize": -8, "labels": false, "title": null}}}},
   {"mark": {"type": "line", "clip": true, "opacity": 0}, "encoding": {"x": {"field": "x", "type": "quantitative", "axis": {"orient": "bottom", "values": [0.00006,0.00007,0.00008,0.00009,0.0002,0.0003,0.0004,0.0005,0.0006,0.0007,0.0008,0.0009,0.002,0.003,0.004,0.005,0.006,0.007,0.008,0.009,0.02,0.03,0.04,0.05,0.06,0.07,0.08,0.09,0.2,0.3,0.4,0.5,0.6], "tickSize": -4, "labels": false, "title": null}}, "y": {"field": "y", "type": "quantitative", "axis": {"orient": "left", "values": [0.005,0.01,0.015,0.025,0.03,0.035,0.045,0.05,0.055,0.065,0.07,0.075,0.085,0.09,0.095,0.105,0.11,0.115], "tickSize": -4, "labels": false, "title": null}}}},
   {"mark": {"type": "line", "clip": true, "opacity": 0}, "encoding": {"x": {"field": "x", "type": "quantitative", "axis": {"orient": "top", "values": [0.00006,0.00007,0.00008,0.00009,0.0002,0.0003,0.0004,0.0005,0.0006,0.0007,0.0008,0.0009,0.002,0.003,0.004,0.005,0.006,0.007,0.008,0.009,0.02,0.03,0.04,0.05,0.06,0.07,0.08,0.09,0.2,0.3,0.4,0.5,0.6], "tickSize": -4, "labels": false, "title": null}}, "y": {"field": "y", "type": "quantitative", "axis": {"orient": "right", "values": [0.005,0.01,0.015,0.025,0.03,0.035,0.045,0.05,0.055,0.065,0.07,0.075,0.085,0.09,0.095,0.105,0.11,0.115], "tickSize": -4, "labels": false, "title": null}}}}
  ]},
 {"data": {"name": "s"}, "title": "NNLO, Q = 100 GeV", "width": 336, "height": 229,
  "resolve": {"axis": {"x": "independent", "y": "independent"}},
  "layer": [
   {"mark": {"type": "line", "clip": true, "interpolate": "monotone"},
    "encoding": {
     "x": {"field": "x", "type": "quantitative", "scale": {"type": "log", "domain": [0.00005, 0.63], "nice": false}, "axis": {"orient": "bottom", "values": [0.0001,0.001,0.01,0.1], "tickSize": -8, "labelPadding": 11, "labelExpr": "datum.value < 0.0005 ? '10⁻⁴' : datum.value < 0.005 ? '10⁻³' : datum.value < 0.05 ? '10⁻²' : '10⁻¹'", "title": "x", "titleX": 174, "titleY": 13, "titleBaseline": "middle", "titleFontSize": 13}},
     "y": {"field": "y", "type": "quantitative", "scale": {"domain": [0, 0.16], "nice": false}, "axis": {"orient": "left", "values": [0,0.02,0.04,0.06,0.08,0.1,0.12,0.14,0.16], "tickSize": -8, "labelPadding": 11, "labelExpr": "format(datum.value, '.2~f')", "title": "δ s ( x, Q²) / ( s ( x, Q²) [ref] )", "titleAnchor": "start", "titlePadding": 2}},
     "color": {"field": "s", "type": "nominal", "scale": {"domain": ["NNPDF3.1","CT14","MMHT2014"], "range": ["#3cc63c","#c01a1e","#4040cc"]}, "legend": {"title": null, "labelExpr": "datum.label + '\u00a0\u00a0\u00a0\u00a0\u00a0\u00a0\u00a0\u200b'"}},
     "strokeDash": {"field": "s", "type": "nominal", "scale": {"domain": ["NNPDF3.1","CT14","MMHT2014"], "range": [[1,0],[3,2],[1.3,1.3]]}, "legend": {"title": null, "labelExpr": "datum.label + '\u00a0\u00a0\u00a0\u00a0\u00a0\u00a0\u00a0\u200b'"}},
     "strokeWidth": {"field": "s", "type": "ordinal", "scale": {"domain": ["NNPDF3.1","CT14","MMHT2014"], "range": [2.4,2.2,1.6]}, "legend": {"title": null, "labelExpr": "datum.label + '\u00a0\u00a0\u00a0\u00a0\u00a0\u00a0\u00a0\u200b'"}}
    }},
   {"mark": {"type": "line", "clip": true, "opacity": 0}, "encoding": {"x": {"field": "x", "type": "quantitative", "axis": {"orient": "top", "values": [0.0001,0.001,0.01,0.1], "tickSize": -8, "labels": false, "title": null}}, "y": {"field": "y", "type": "quantitative", "axis": {"orient": "right", "values": [0,0.02,0.04,0.06,0.08,0.1,0.12,0.14,0.16], "tickSize": -8, "labels": false, "title": null}}}},
   {"mark": {"type": "line", "clip": true, "opacity": 0}, "encoding": {"x": {"field": "x", "type": "quantitative", "axis": {"orient": "bottom", "values": [0.00006,0.00007,0.00008,0.00009,0.0002,0.0003,0.0004,0.0005,0.0006,0.0007,0.0008,0.0009,0.002,0.003,0.004,0.005,0.006,0.007,0.008,0.009,0.02,0.03,0.04,0.05,0.06,0.07,0.08,0.09,0.2,0.3,0.4,0.5,0.6], "tickSize": -4, "labels": false, "title": null}}, "y": {"field": "y", "type": "quantitative", "axis": {"orient": "left", "values": [0.005,0.01,0.015,0.025,0.03,0.035,0.045,0.05,0.055,0.065,0.07,0.075,0.085,0.09,0.095,0.105,0.11,0.115,0.125,0.13,0.135,0.145,0.15,0.155], "tickSize": -4, "labels": false, "title": null}}}},
   {"mark": {"type": "line", "clip": true, "opacity": 0}, "encoding": {"x": {"field": "x", "type": "quantitative", "axis": {"orient": "top", "values": [0.00006,0.00007,0.00008,0.00009,0.0002,0.0003,0.0004,0.0005,0.0006,0.0007,0.0008,0.0009,0.002,0.003,0.004,0.005,0.006,0.007,0.008,0.009,0.02,0.03,0.04,0.05,0.06,0.07,0.08,0.09,0.2,0.3,0.4,0.5,0.6], "tickSize": -4, "labels": false, "title": null}}, "y": {"field": "y", "type": "quantitative", "axis": {"orient": "right", "values": [0.005,0.01,0.015,0.025,0.03,0.035,0.045,0.05,0.055,0.065,0.07,0.075,0.085,0.09,0.095,0.105,0.11,0.115,0.125,0.13,0.135,0.145,0.15,0.155], "tickSize": -4, "labels": false, "title": null}}}}
  ]},
 {"data": {"name": "sb"}, "title": "NNLO, Q = 100 GeV", "width": 336, "height": 229,
  "resolve": {"axis": {"x": "independent", "y": "independent"}},
  "layer": [
   {"mark": {"type": "line", "clip": true, "interpolate": "monotone"},
    "encoding": {
     "x": {"field": "x", "type": "quantitative", "scale": {"type": "log", "domain": [0.00005, 0.63], "nice": false}, "axis": {"orient": "bottom", "values": [0.0001,0.001,0.01,0.1], "tickSize": -8, "labelPadding": 11, "labelExpr": "datum.value < 0.0005 ? '10⁻⁴' : datum.value < 0.005 ? '10⁻³' : datum.value < 0.05 ? '10⁻²' : '10⁻¹'", "title": "x", "titleX": 174, "titleY": 13, "titleBaseline": "middle", "titleFontSize": 13}},
     "y": {"field": "y", "type": "quantitative", "scale": {"domain": [0, 0.16], "nice": false}, "axis": {"orient": "left", "values": [0,0.02,0.04,0.06,0.08,0.1,0.12,0.14,0.16], "tickSize": -8, "labelPadding": 11, "labelExpr": "format(datum.value, '.2~f')", "title": "δ s̄ ( x, Q²) / ( s̄ ( x, Q²) [ref] )", "titleAnchor": "start", "titlePadding": 2}},
     "color": {"field": "s", "type": "nominal", "scale": {"domain": ["NNPDF3.1","CT14","MMHT2014"], "range": ["#3cc63c","#c01a1e","#4040cc"]}, "legend": {"title": null, "labelExpr": "datum.label + '\u00a0\u00a0\u00a0\u00a0\u00a0\u00a0\u00a0\u200b'"}},
     "strokeDash": {"field": "s", "type": "nominal", "scale": {"domain": ["NNPDF3.1","CT14","MMHT2014"], "range": [[1,0],[3,2],[1.3,1.3]]}, "legend": {"title": null, "labelExpr": "datum.label + '\u00a0\u00a0\u00a0\u00a0\u00a0\u00a0\u00a0\u200b'"}},
     "strokeWidth": {"field": "s", "type": "ordinal", "scale": {"domain": ["NNPDF3.1","CT14","MMHT2014"], "range": [2.4,2.2,1.6]}, "legend": {"title": null, "labelExpr": "datum.label + '\u00a0\u00a0\u00a0\u00a0\u00a0\u00a0\u00a0\u200b'"}}
    }},
   {"mark": {"type": "line", "clip": true, "opacity": 0}, "encoding": {"x": {"field": "x", "type": "quantitative", "axis": {"orient": "top", "values": [0.0001,0.001,0.01,0.1], "tickSize": -8, "labels": false, "title": null}}, "y": {"field": "y", "type": "quantitative", "axis": {"orient": "right", "values": [0,0.02,0.04,0.06,0.08,0.1,0.12,0.14,0.16], "tickSize": -8, "labels": false, "title": null}}}},
   {"mark": {"type": "line", "clip": true, "opacity": 0}, "encoding": {"x": {"field": "x", "type": "quantitative", "axis": {"orient": "bottom", "values": [0.00006,0.00007,0.00008,0.00009,0.0002,0.0003,0.0004,0.0005,0.0006,0.0007,0.0008,0.0009,0.002,0.003,0.004,0.005,0.006,0.007,0.008,0.009,0.02,0.03,0.04,0.05,0.06,0.07,0.08,0.09,0.2,0.3,0.4,0.5,0.6], "tickSize": -4, "labels": false, "title": null}}, "y": {"field": "y", "type": "quantitative", "axis": {"orient": "left", "values": [0.005,0.01,0.015,0.025,0.03,0.035,0.045,0.05,0.055,0.065,0.07,0.075,0.085,0.09,0.095,0.105,0.11,0.115,0.125,0.13,0.135,0.145,0.15,0.155], "tickSize": -4, "labels": false, "title": null}}}},
   {"mark": {"type": "line", "clip": true, "opacity": 0}, "encoding": {"x": {"field": "x", "type": "quantitative", "axis": {"orient": "top", "values": [0.00006,0.00007,0.00008,0.00009,0.0002,0.0003,0.0004,0.0005,0.0006,0.0007,0.0008,0.0009,0.002,0.003,0.004,0.005,0.006,0.007,0.008,0.009,0.02,0.03,0.04,0.05,0.06,0.07,0.08,0.09,0.2,0.3,0.4,0.5,0.6], "tickSize": -4, "labels": false, "title": null}}, "y": {"field": "y", "type": "quantitative", "axis": {"orient": "right", "values": [0.005,0.01,0.015,0.025,0.03,0.035,0.045,0.05,0.055,0.065,0.07,0.075,0.085,0.09,0.095,0.105,0.11,0.115,0.125,0.13,0.135,0.145,0.15,0.155], "tickSize": -4, "labels": false, "title": null}}}}
  ]},
 {"data": {"name": "c"}, "title": "NNLO, Q = 100 GeV", "width": 336, "height": 229,
  "resolve": {"axis": {"x": "independent", "y": "independent"}},
  "layer": [
   {"mark": {"type": "line", "clip": true, "interpolate": "monotone"},
    "encoding": {
     "x": {"field": "x", "type": "quantitative", "scale": {"type": "log", "domain": [0.00005, 0.63], "nice": false}, "axis": {"orient": "bottom", "values": [0.0001,0.001,0.01,0.1], "tickSize": -8, "labelPadding": 11, "labelExpr": "datum.value < 0.0005 ? '10⁻⁴' : datum.value < 0.005 ? '10⁻³' : datum.value < 0.05 ? '10⁻²' : '10⁻¹'", "title": "x", "titleX": 174, "titleY": 13, "titleBaseline": "middle", "titleFontSize": 13}},
     "y": {"field": "y", "type": "quantitative", "scale": {"domain": [0, 0.12], "nice": false}, "axis": {"orient": "left", "values": [0,0.02,0.04,0.06,0.08,0.1,0.12], "tickSize": -8, "labelPadding": 11, "labelExpr": "format(datum.value, '.2~f')", "title": "δ c⁺ ( x, Q²) / ( c⁺ ( x, Q²) [ref] )", "titleAnchor": "start", "titlePadding": 2}},
     "color": {"field": "s", "type": "nominal", "scale": {"domain": ["NNPDF3.1","CT14","MMHT2014"], "range": ["#3cc63c","#c01a1e","#4040cc"]}, "legend": {"title": null, "labelExpr": "datum.label + '\u00a0\u00a0\u00a0\u00a0\u00a0\u00a0\u00a0\u200b'"}},
     "strokeDash": {"field": "s", "type": "nominal", "scale": {"domain": ["NNPDF3.1","CT14","MMHT2014"], "range": [[1,0],[3,2],[1.3,1.3]]}, "legend": {"title": null, "labelExpr": "datum.label + '\u00a0\u00a0\u00a0\u00a0\u00a0\u00a0\u00a0\u200b'"}},
     "strokeWidth": {"field": "s", "type": "ordinal", "scale": {"domain": ["NNPDF3.1","CT14","MMHT2014"], "range": [2.4,2.2,1.6]}, "legend": {"title": null, "labelExpr": "datum.label + '\u00a0\u00a0\u00a0\u00a0\u00a0\u00a0\u00a0\u200b'"}}
    }},
   {"mark": {"type": "line", "clip": true, "opacity": 0}, "encoding": {"x": {"field": "x", "type": "quantitative", "axis": {"orient": "top", "values": [0.0001,0.001,0.01,0.1], "tickSize": -8, "labels": false, "title": null}}, "y": {"field": "y", "type": "quantitative", "axis": {"orient": "right", "values": [0,0.02,0.04,0.06,0.08,0.1,0.12], "tickSize": -8, "labels": false, "title": null}}}},
   {"mark": {"type": "line", "clip": true, "opacity": 0}, "encoding": {"x": {"field": "x", "type": "quantitative", "axis": {"orient": "bottom", "values": [0.00006,0.00007,0.00008,0.00009,0.0002,0.0003,0.0004,0.0005,0.0006,0.0007,0.0008,0.0009,0.002,0.003,0.004,0.005,0.006,0.007,0.008,0.009,0.02,0.03,0.04,0.05,0.06,0.07,0.08,0.09,0.2,0.3,0.4,0.5,0.6], "tickSize": -4, "labels": false, "title": null}}, "y": {"field": "y", "type": "quantitative", "axis": {"orient": "left", "values": [0.005,0.01,0.015,0.025,0.03,0.035,0.045,0.05,0.055,0.065,0.07,0.075,0.085,0.09,0.095,0.105,0.11,0.115], "tickSize": -4, "labels": false, "title": null}}}},
   {"mark": {"type": "line", "clip": true, "opacity": 0}, "encoding": {"x": {"field": "x", "type": "quantitative", "axis": {"orient": "top", "values": [0.00006,0.00007,0.00008,0.00009,0.0002,0.0003,0.0004,0.0005,0.0006,0.0007,0.0008,0.0009,0.002,0.003,0.004,0.005,0.006,0.007,0.008,0.009,0.02,0.03,0.04,0.05,0.06,0.07,0.08,0.09,0.2,0.3,0.4,0.5,0.6], "tickSize": -4, "labels": false, "title": null}}, "y": {"field": "y", "type": "quantitative", "axis": {"orient": "right", "values": [0.005,0.01,0.015,0.025,0.03,0.035,0.045,0.05,0.055,0.065,0.07,0.075,0.085,0.09,0.095,0.105,0.11,0.115], "tickSize": -4, "labels": false, "title": null}}}}
  ]},
 {"data": {"name": "g"}, "title": "NNLO, Q = 100 GeV", "width": 336, "height": 229,
  "resolve": {"axis": {"x": "independent", "y": "independent"}},
  "layer": [
   {"mark": {"type": "line", "clip": true, "interpolate": "monotone"},
    "encoding": {
     "x": {"field": "x", "type": "quantitative", "scale": {"type": "log", "domain": [0.00005, 0.63], "nice": false}, "axis": {"orient": "bottom", "values": [0.0001,0.001,0.01,0.1], "tickSize": -8, "labelPadding": 11, "labelExpr": "datum.value < 0.0005 ? '10⁻⁴' : datum.value < 0.005 ? '10⁻³' : datum.value < 0.05 ? '10⁻²' : '10⁻¹'", "title": "x", "titleX": 174, "titleY": 13, "titleBaseline": "middle", "titleFontSize": 13}},
     "y": {"field": "y", "type": "quantitative", "scale": {"domain": [0, 0.12], "nice": false}, "axis": {"orient": "left", "values": [0,0.02,0.04,0.06,0.08,0.1,0.12], "tickSize": -8, "labelPadding": 11, "labelExpr": "format(datum.value, '.2~f')", "title": "δ g ( x, Q²) / ( g ( x, Q²) [ref] )", "titleAnchor": "start", "titlePadding": 2}},
     "color": {"field": "s", "type": "nominal", "scale": {"domain": ["NNPDF3.1","CT14","MMHT2014"], "range": ["#3cc63c","#c01a1e","#4040cc"]}, "legend": {"title": null, "labelExpr": "datum.label + '\u00a0\u00a0\u00a0\u00a0\u00a0\u00a0\u00a0\u200b'"}},
     "strokeDash": {"field": "s", "type": "nominal", "scale": {"domain": ["NNPDF3.1","CT14","MMHT2014"], "range": [[1,0],[3,2],[1.3,1.3]]}, "legend": {"title": null, "labelExpr": "datum.label + '\u00a0\u00a0\u00a0\u00a0\u00a0\u00a0\u00a0\u200b'"}},
     "strokeWidth": {"field": "s", "type": "ordinal", "scale": {"domain": ["NNPDF3.1","CT14","MMHT2014"], "range": [2.4,2.2,1.6]}, "legend": {"title": null, "labelExpr": "datum.label + '\u00a0\u00a0\u00a0\u00a0\u00a0\u00a0\u00a0\u200b'"}}
    }},
   {"mark": {"type": "line", "clip": true, "opacity": 0}, "encoding": {"x": {"field": "x", "type": "quantitative", "axis": {"orient": "top", "values": [0.0001,0.001,0.01,0.1], "tickSize": -8, "labels": false, "title": null}}, "y": {"field": "y", "type": "quantitative", "axis": {"orient": "right", "values": [0,0.02,0.04,0.06,0.08,0.1,0.12], "tickSize": -8, "labels": false, "title": null}}}},
   {"mark": {"type": "line", "clip": true, "opacity": 0}, "encoding": {"x": {"field": "x", "type": "quantitative", "axis": {"orient": "bottom", "values": [0.00006,0.00007,0.00008,0.00009,0.0002,0.0003,0.0004,0.0005,0.0006,0.0007,0.0008,0.0009,0.002,0.003,0.004,0.005,0.006,0.007,0.008,0.009,0.02,0.03,0.04,0.05,0.06,0.07,0.08,0.09,0.2,0.3,0.4,0.5,0.6], "tickSize": -4, "labels": false, "title": null}}, "y": {"field": "y", "type": "quantitative", "axis": {"orient": "left", "values": [0.005,0.01,0.015,0.025,0.03,0.035,0.045,0.05,0.055,0.065,0.07,0.075,0.085,0.09,0.095,0.105,0.11,0.115], "tickSize": -4, "labels": false, "title": null}}}},
   {"mark": {"type": "line", "clip": true, "opacity": 0}, "encoding": {"x": {"field": "x", "type": "quantitative", "axis": {"orient": "top", "values": [0.00006,0.00007,0.00008,0.00009,0.0002,0.0003,0.0004,0.0005,0.0006,0.0007,0.0008,0.0009,0.002,0.003,0.004,0.005,0.006,0.007,0.008,0.009,0.02,0.03,0.04,0.05,0.06,0.07,0.08,0.09,0.2,0.3,0.4,0.5,0.6], "tickSize": -4, "labels": false, "title": null}}, "y": {"field": "y", "type": "quantitative", "axis": {"orient": "right", "values": [0.005,0.01,0.015,0.025,0.03,0.035,0.045,0.05,0.055,0.065,0.07,0.075,0.085,0.09,0.095,0.105,0.11,0.115], "tickSize": -4, "labels": false, "title": null}}}}
  ]}
]
}
